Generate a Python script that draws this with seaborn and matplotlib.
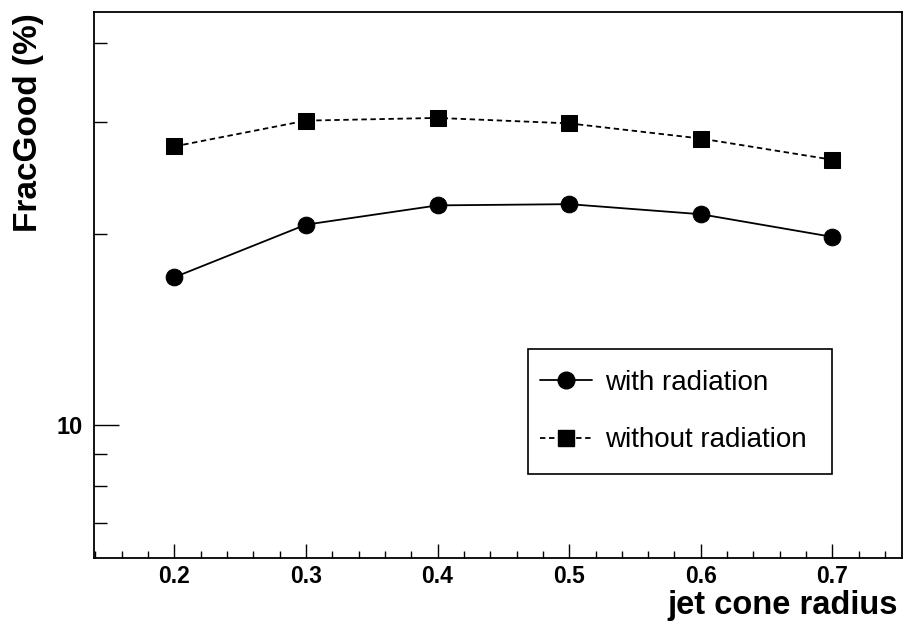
import matplotlib
matplotlib.use("Agg")
import matplotlib.pyplot as plt
import matplotlib.ticker as mticker
from matplotlib.patches import Rectangle
import pandas as pd
import seaborn as sns

# Jet cone radius scan
radius = [0.2, 0.3, 0.4, 0.5, 0.6, 0.7]
with_radiation = [17.1, 20.7, 22.2, 22.3, 21.5, 19.8]
without_radiation = [27.5, 30.2, 30.5, 29.9, 28.3, 26.2]
series_names = ["with radiation", "without radiation"]

y_major = [10]
y_minor = [7, 8, 9, 20, 30, 40]
x_major = [0.2, 0.3, 0.4, 0.5, 0.6, 0.7]

sns.set_theme(style="white")
plt.rcParams["font.family"] = ["Liberation Sans", "DejaVu Sans"]
for key in ["text.color", "axes.labelcolor", "xtick.color", "ytick.color", "axes.edgecolor"]:
    plt.rcParams[key] = "black"

df = pd.DataFrame({
    "radius": radius * 2,
    "frac": with_radiation + without_radiation,
    "sample": [series_names[0]] * len(radius) + [series_names[1]] * len(radius),
})

fig = plt.figure(figsize=(9.04, 6.23), dpi=100)
ax = fig.add_axes([0.104, 0.1043, 0.894, 0.8764])

sns.lineplot(data=df, x="radius", y="frac", hue="sample", style="sample",
             palette=["black", "black"], dashes=[(None, None), (3, 2)],
             markers=["o", "s"], markersize=12, linewidth=1.3,
             markeredgecolor="black", ax=ax, legend=False)

ax.set_yscale("log")
ax.set_xlim(0.139, 0.753)
ax.set_ylim(6.17, 44.8)

ax.yaxis.set_major_locator(mticker.FixedLocator(y_major))
ax.yaxis.set_minor_locator(mticker.FixedLocator(y_minor))
ax.yaxis.set_major_formatter(mticker.FormatStrFormatter("%d"))
ax.yaxis.set_minor_formatter(mticker.NullFormatter())
ax.xaxis.set_major_locator(mticker.FixedLocator(x_major))
ax.xaxis.set_minor_locator(mticker.MultipleLocator(0.02))
ax.xaxis.set_major_formatter(mticker.FormatStrFormatter("%.1f"))

ax.tick_params(axis="both", which="both", direction="in", color="black",
               width=1.0, left=True, bottom=True, top=False, right=False)
ax.tick_params(axis="y", which="major", length=18, pad=8)
ax.tick_params(axis="y", which="minor", length=9.5)
ax.tick_params(axis="x", which="major", length=10, pad=5)
ax.tick_params(axis="x", which="minor", length=5)
for lab in ax.get_xticklabels():
    lab.set_fontsize(16.5)
    lab.set_fontweight("bold")
for lab in ax.get_yticklabels():
    lab.set_fontsize(17)
    lab.set_fontweight("bold")

for sp in ax.spines.values():
    sp.set_color("black")
    sp.set_linewidth(1.3)

ax.set_xlabel("jet cone radius", fontsize=23.5, fontweight="bold")
ax.xaxis.set_label_coords(0.995, -0.058)
ax.xaxis.label.set_horizontalalignment("right")
ax.xaxis.label.set_verticalalignment("top")
ax.set_ylabel("FracGood (%)", fontsize=24, fontweight="bold")
ax.yaxis.set_label_coords(-0.062, 0.998)
ax.yaxis.label.set_horizontalalignment("right")

# Legend: entries without frame, box drawn separately
handles = [
    plt.Line2D([], [], color="black", linestyle="-", marker="o", markersize=12, linewidth=1.3),
    plt.Line2D([], [], color="black", linestyle=(0, (3, 2)), marker="s", markersize=12, linewidth=1.3),
]
leg = ax.legend(handles, series_names, loc="center left",
                bbox_to_anchor=((540 - 94) / 808, (558 - 411.5) / 546),
                frameon=False, borderpad=0, borderaxespad=0, labelspacing=1.14,
                handlelength=1.87, handletextpad=0.47,
                prop={"size": 20})
ax.add_patch(Rectangle((0.537, 0.154), 0.376, 0.229, transform=ax.transAxes,
                       fill=False, edgecolor="black", linewidth=1.2, zorder=5))

fig.savefig("out.png", dpi=100, facecolor="white")
